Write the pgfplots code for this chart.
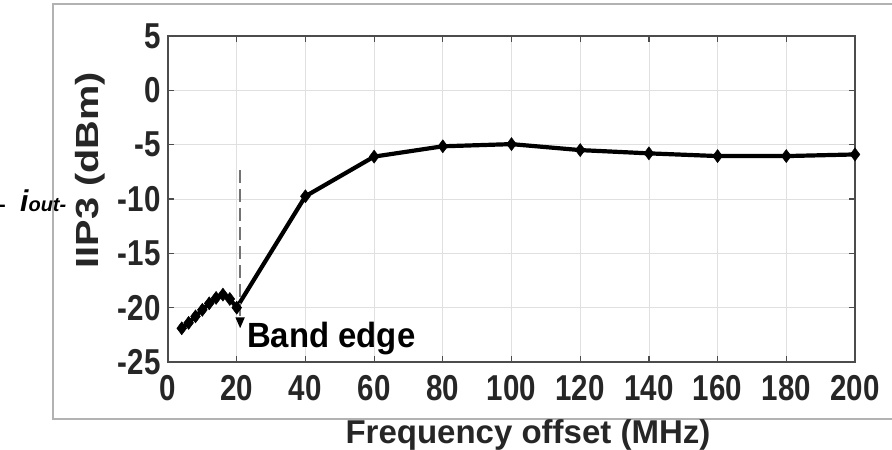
\documentclass[border=0pt]{standalone}
\usepackage{fontspec}
\setmainfont{Liberation Sans}
\newfontfamily\tickfont{Liberation Sans}[FakeStretch=0.82]
\newfontfamily\labfont{Liberation Sans}[FakeStretch=0.94]
\newfontfamily\ylabfont{Liberation Sans}[FakeStretch=1.24]
\usepackage{pgfplots}
\pgfplotsset{compat=1.18}
\usetikzlibrary{arrows.meta}
\definecolor{tickgray}{HTML}{262626}
\begin{document}
\begin{tikzpicture}[x=1pt,y=1pt]
\path[use as bounding box] (0,0) rectangle (892,450);
\draw[black!30, line width=1.2pt] (892,446) -- (53,446) -- (53,31) -- (892,31);
\node[anchor=base west, inner sep=0pt] at (20,238) {\bfseries\itshape\fontsize{30}{30}\selectfont i\fontsize{20}{20}\selectfont out-};
\node[anchor=base east, inner sep=0pt] at (6,238) {\bfseries\fontsize{20}{20}\selectfont -};
\begin{axis}[
  at={(168pt,88pt)}, anchor=south west,
  scale only axis, width=687pt, height=326pt,
  xmin=0, xmax=200, ymin=-25, ymax=5,
  xtick={0,20,...,200}, ytick={-25,-20,...,5},
  grid=major, grid style={color=black!12, line width=0.8pt},
  axis line style={draw=black!70, line width=1.6pt},
  tick align=inside, major tick length=6pt,
  tick style={black!70, line width=1.2pt},
  /pgf/number format/assume math mode=true,
  ticklabel style={font=\tickfont\bfseries\fontsize{36}{36}\selectfont, text=tickgray},
  xticklabel style={yshift=-10pt},
  yticklabel style={xshift=-4pt},
  xlabel={Frequency offset (MHz)},
  ylabel={IIP3 (dBm)},
  xlabel style={font=\bfseries\fontsize{33}{33}\selectfont, text=tickgray, at={(axis description cs:0.524,-0.2485)}, anchor=base},
  ylabel style={font=\ylabfont\bfseries\fontsize{32}{32}\selectfont, text=tickgray, at={(axis description cs:-0.1135,0.589)}, anchor=center},
  clip=false,
]
\addplot[black, line width=4.2pt, mark=diamond*, mark size=6.5pt, mark options={solid, fill=black, line width=0.5pt}] coordinates {
 (4,-21.9) (6,-21.4) (8,-20.8) (10,-20.2) (12,-19.6) (14,-19.1) (16,-18.8) (18,-19.2) (20,-20.0)
 (40,-9.75) (60,-6.1) (80,-5.15) (100,-4.95) (120,-5.5) (140,-5.8) (160,-6.05) (180,-6.05) (200,-5.9)
};
\draw[black!55, line width=1.6pt, dash pattern=on 13pt off 6pt, -{Triangle[black, length=11pt, width=9pt, sep=0pt]}] (axis cs:21,-7.35) -- (axis cs:21,-21.9);
\node[anchor=base west, inner sep=0pt, font=\labfont\bfseries\fontsize{35}{35}\selectfont] at (axis cs:23,-23.62) {Band edge};
\end{axis}
\end{tikzpicture}
\end{document}
